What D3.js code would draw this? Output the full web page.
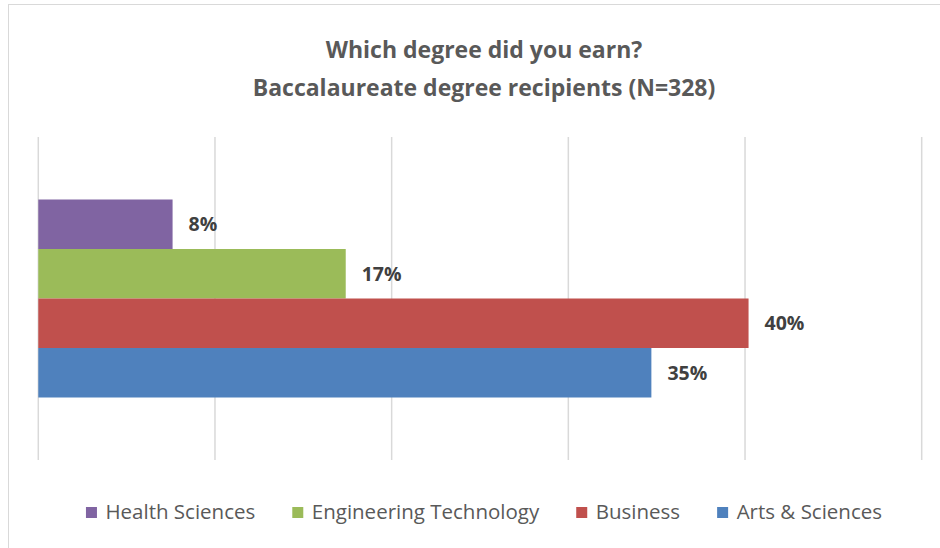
<!DOCTYPE html>
<html>
<head>
<meta charset="utf-8">
<script src="https://cdn.jsdelivr.net/npm/d3@7"></script>
<style>
  body { margin: 0; background: #fff; }
  svg { display: block; font-family: "Open Sans", "Noto Sans", sans-serif; }
</style>
</head>
<body>
<script>
// one category, four series (drawn top to bottom)
const series = ["Health Sciences", "Engineering Technology", "Business", "Arts & Sciences"];
const values = [7.6, 17.4, 40.2, 34.7];
const labels = ["8%", "17%", "40%", "35%"];
const colors = ["#8064a2", "#9bbb59", "#c0504d", "#4f81bd"];
const ticks = [0, 10, 20, 30, 40, 50];
const titleLines = ["Which degree did you earn?", "Baccalaureate degree recipients (N=328)"];

const width = 940, height = 548;
const plot = {left: 38.3, right: 921.7, top: 137, bottom: 460};

const svg = d3.select("body").append("svg")
  .attr("width", width)
  .attr("height", height);

// chart frame (only the top and left edges show in the picture)
svg.append("rect")
  .attr("x", 8.5).attr("y", 4.5)
  .attr("width", 940).attr("height", 560)
  .attr("fill", "none")
  .attr("stroke", "#d9d9d9");

svg.append("g").selectAll("text")
  .data(titleLines)
  .join("text")
  .attr("x", 484)
  .attr("y", (d, i) => 58 + i * 38)
  .attr("text-anchor", "middle")
  .attr("font-size", 23)
  .attr("font-weight", "bold")
  .attr("fill", "#595959")
  .text(d => d);

const x = d3.scaleLinear().domain([0, 50]).range([plot.left, plot.right]);

// bars fill the middle of the plot, leaving a gap above and below
const y = d3.scaleBand()
  .domain(series)
  .range([plot.top + 62.5, plot.bottom - 62.5]);

svg.append("g").selectAll("line")
  .data(ticks)
  .join("line")
  .attr("x1", d => x(d)).attr("x2", d => x(d))
  .attr("y1", plot.top).attr("y2", plot.bottom)
  .attr("stroke", "#d9d9d9")
  .attr("stroke-width", 1.5);

svg.append("g").selectAll("rect")
  .data(series)
  .join("rect")
  .attr("x", x(0))
  .attr("y", d => y(d))
  .attr("width", (d, i) => x(values[i]) - x(0))
  .attr("height", y.bandwidth())
  .attr("fill", (d, i) => colors[i]);

svg.append("g").selectAll("text")
  .data(series)
  .join("text")
  .attr("x", (d, i) => x(values[i]) + 16)
  .attr("y", d => y(d) + y.bandwidth() / 2)
  .attr("dy", "0.35em")
  .attr("font-size", 19.5)
  .attr("font-weight", "bold")
  .attr("fill", "#404040")
  .text((d, i) => labels[i]);

// legend, centred under the plot
const legend = svg.append("g");
const item = legend.selectAll("g")
  .data(series)
  .join("g");

item.append("rect")
  .attr("width", 11).attr("height", 11)
  .attr("y", -5)
  .attr("fill", (d, i) => colors[i]);

item.append("text")
  .attr("x", 19.5)
  .attr("dy", "0.35em")
  .attr("font-size", 20.5)
  .attr("fill", "#595959")
  .text(d => d);

let pos = 0;
item.each(function() {
  const w = d3.select(this).select("text").node().getComputedTextLength();
  d3.select(this).attr("transform", `translate(${pos},0)`);
  pos += 19.5 + w + 37;
});
pos -= 37;
legend.attr("transform", `translate(${484 - pos / 2},512)`);
</script>
</body>
</html>
